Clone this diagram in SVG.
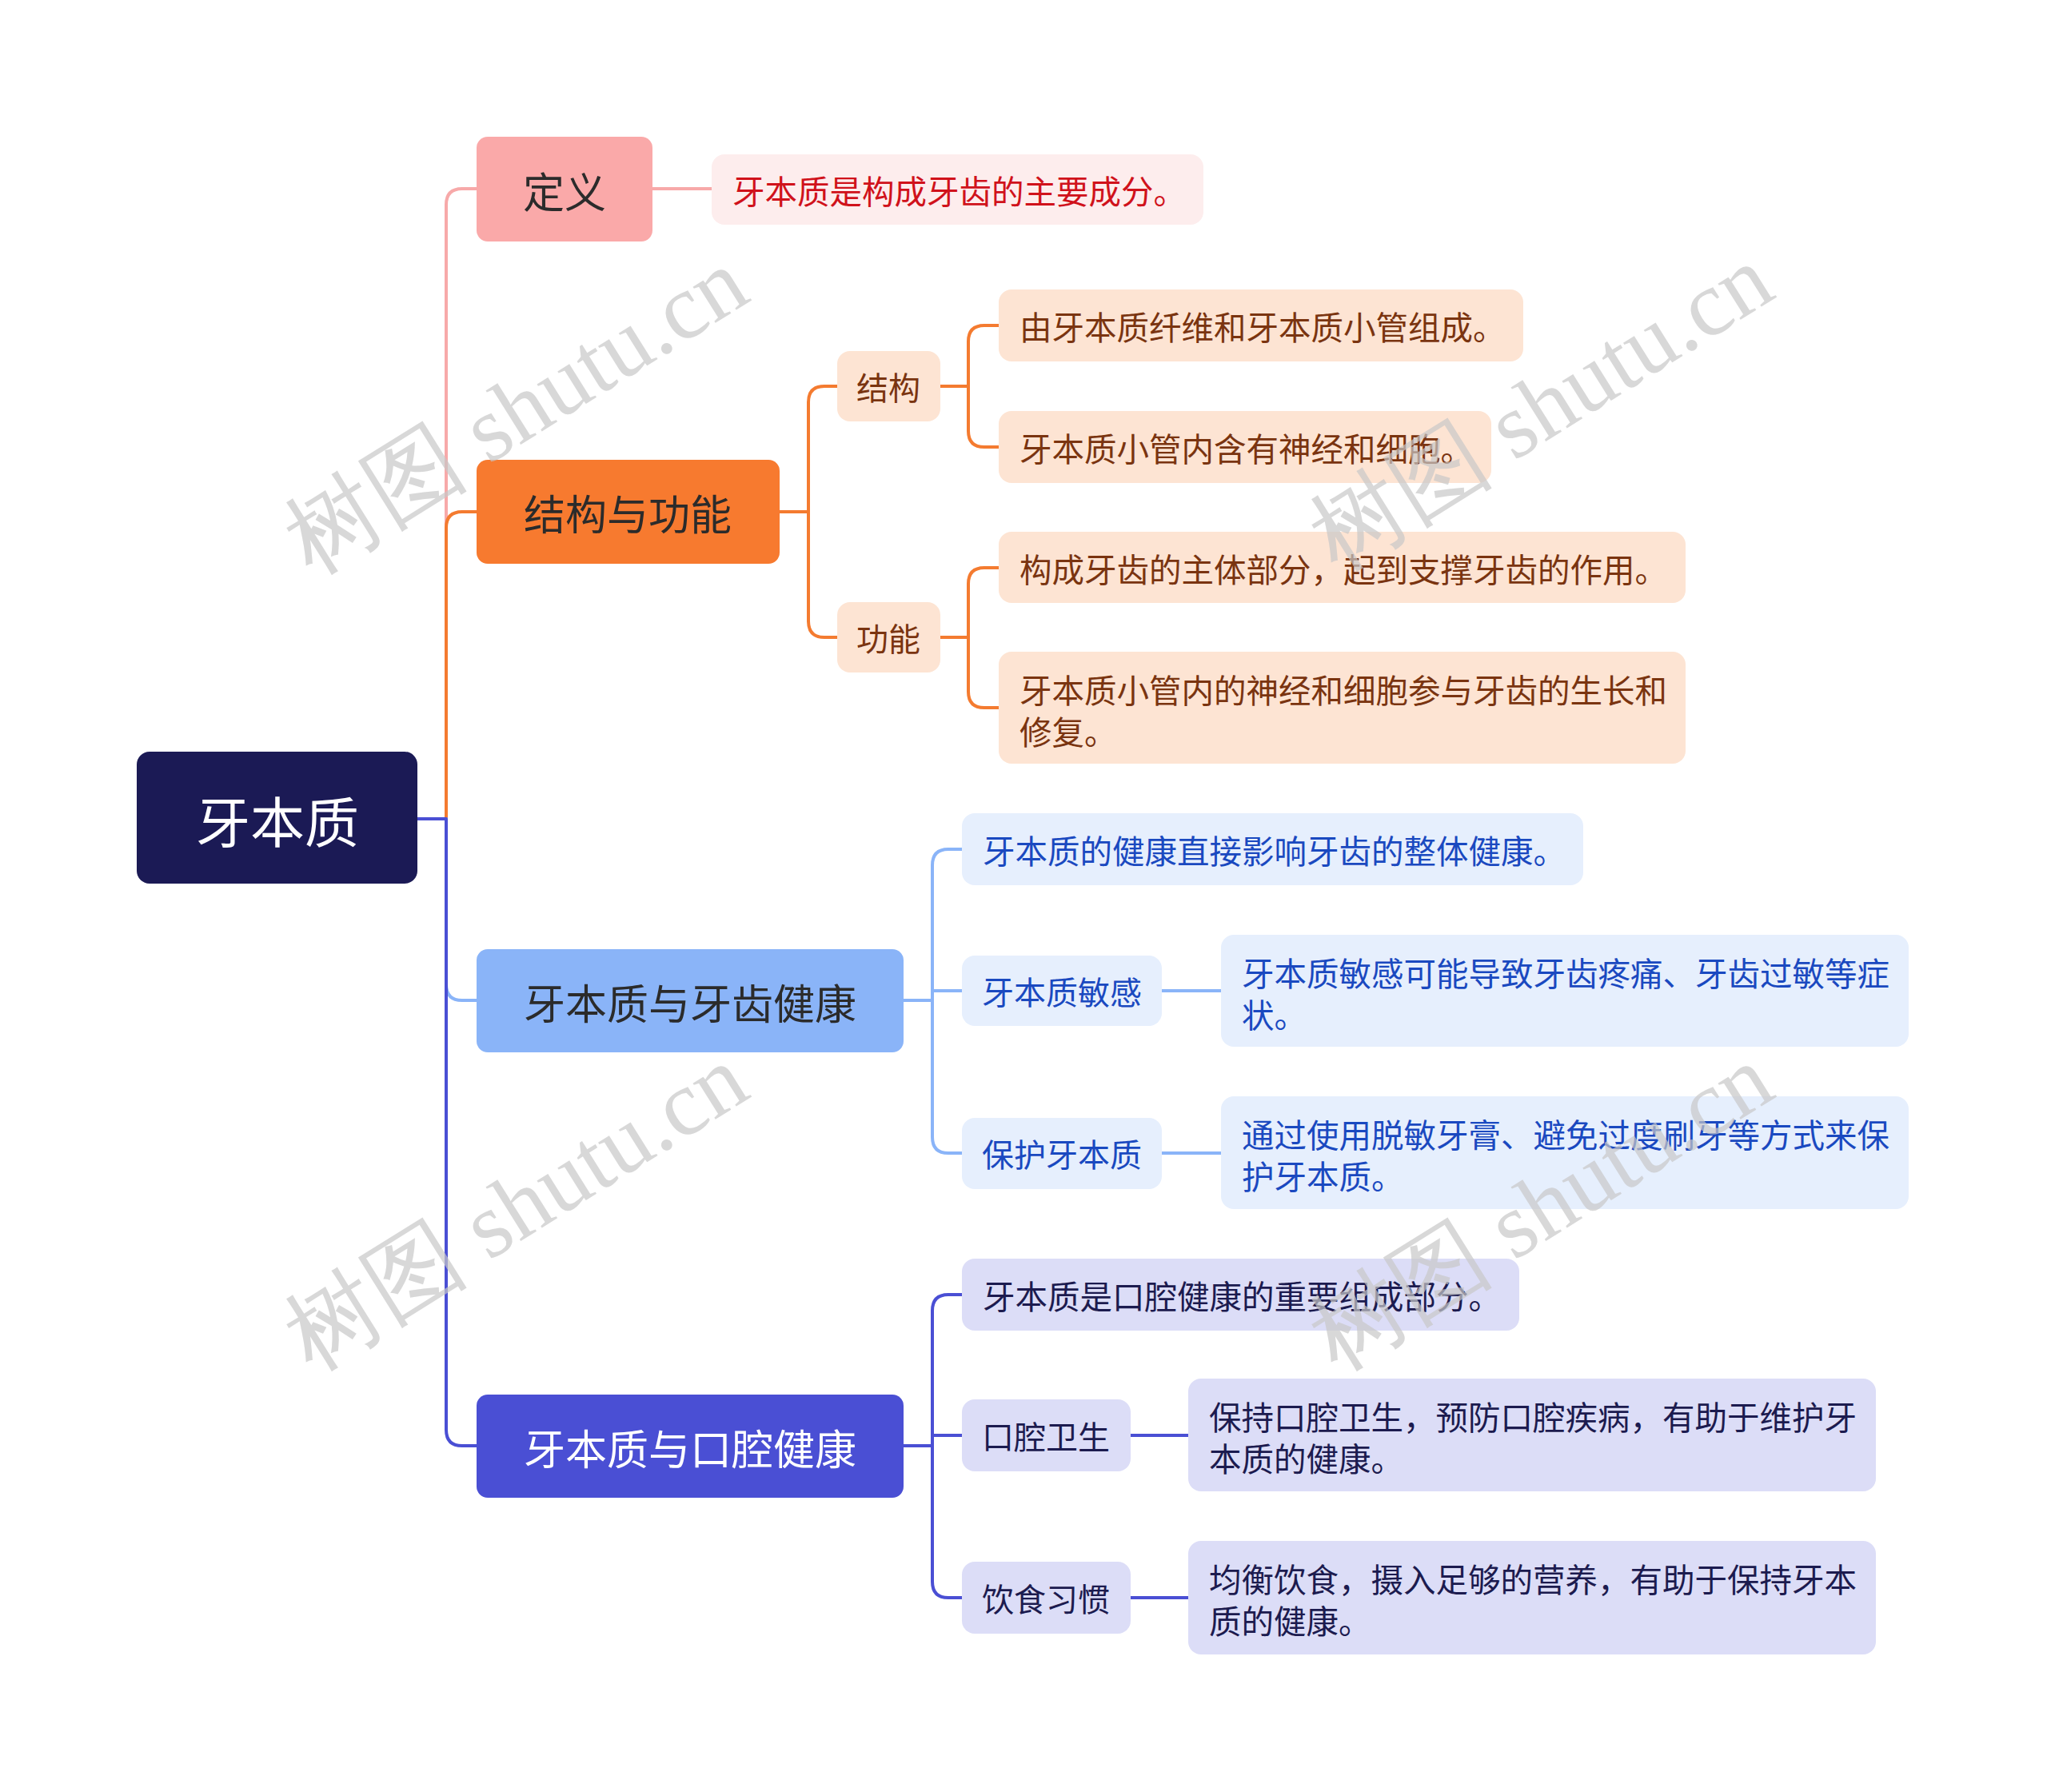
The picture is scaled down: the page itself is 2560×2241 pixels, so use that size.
<svg xmlns="http://www.w3.org/2000/svg" width="2560" height="2241" viewBox="0 0 2560 2241">
<style>
text{font-family:"Noto Sans CJK SC","Noto Sans",sans-serif;dominant-baseline:central}
.c{fill:none;stroke-width:4;stroke-linecap:round;stroke-linejoin:round}
.l1{font-size:52px;text-anchor:middle}
.l2{font-size:40px;text-anchor:middle}
.lf{font-size:40.5px}
.wm{font-family:"Liberation Serif","DejaVu Serif",serif;font-size:116px;fill:#c8c8c8;fill-opacity:0.7;text-anchor:middle}
</style>
<rect width="2560" height="2241" fill="#ffffff"/>
<g id="connectors">
<path class="c" stroke="#F7A9A9" d="M522,1024 H558 V256 Q558,236 578,236 H596"/>
<path class="c" stroke="#F47B30" d="M522,1024 H558 V660 Q558,640 578,640 H596"/>
<path class="c" stroke="#8AB4F8" d="M522,1024 H558 V1231 Q558,1251 578,1251 H596"/>
<path class="c" stroke="#4A4FD4" d="M522,1024 H558 V1788 Q558,1808 578,1808 H596"/>
<path class="c" stroke="#F7A9A9" d="M816,236 H890"/>
<path class="c" stroke="#F47B30" d="M975,640 H1011 V503 Q1011,483 1031,483 H1047"/>
<path class="c" stroke="#F47B30" d="M975,640 H1011 V777 Q1011,797 1031,797 H1047"/>
<path class="c" stroke="#F47B30" d="M1176,483 H1211 V427 Q1211,407 1231,407 H1249"/>
<path class="c" stroke="#F47B30" d="M1176,483 H1211 V539 Q1211,559 1231,559 H1249"/>
<path class="c" stroke="#F47B30" d="M1176,797 H1211 V730 Q1211,710 1231,710 H1249"/>
<path class="c" stroke="#F47B30" d="M1176,797 H1211 V865 Q1211,885 1231,885 H1249"/>
<path class="c" stroke="#8AB4F8" d="M1130,1251 H1166 V1082 Q1166,1062 1186,1062 H1203"/>
<path class="c" stroke="#8AB4F8" d="M1130,1251 H1166 V1239 H1203"/>
<path class="c" stroke="#8AB4F8" d="M1130,1251 H1166 V1422 Q1166,1442 1186,1442 H1203"/>
<path class="c" stroke="#8AB4F8" d="M1453,1239 H1527"/>
<path class="c" stroke="#8AB4F8" d="M1453,1442 H1527"/>
<path class="c" stroke="#4A4FD4" d="M1130,1808 H1166 V1639 Q1166,1619 1186,1619 H1203"/>
<path class="c" stroke="#4A4FD4" d="M1130,1808 H1166 V1795 H1203"/>
<path class="c" stroke="#4A4FD4" d="M1130,1808 H1166 V1978 Q1166,1998 1186,1998 H1203"/>
<path class="c" stroke="#4A4FD4" d="M1414,1795 H1486"/>
<path class="c" stroke="#4A4FD4" d="M1414,1998 H1486"/>
</g>
<g id="root"><rect x="171" y="940" width="351" height="165" rx="16" fill="#1B1A55"/><text x="347" y="1024" font-size="68" text-anchor="middle" fill="#ffffff">牙本质</text></g>
<g id="n-def"><rect x="596" y="171" width="220" height="131" rx="14" fill="#FAA9A9"/><text class="l1" x="706" y="237" fill="#2b2b2b">定义</text></g>
<g id="n-def-1"><rect x="890" y="193" width="615" height="88" rx="16" fill="#FDEDED"/><text class="lf" x="916" y="237" fill="#D0121B">牙本质是构成牙齿的主要成分。</text></g>
<g id="n-sf"><rect x="596" y="575" width="379" height="130" rx="14" fill="#F77A2F"/><text class="l1" x="785" y="640" fill="#2b2b2b">结构与功能</text></g>
<g id="n-jg"><rect x="1047" y="439" width="129" height="88" rx="16" fill="#FDE4D3"/><text class="l2" x="1111" y="483" fill="#7A3410">结构</text></g>
<g id="n-jg-1"><rect x="1249" y="362" width="656" height="90" rx="16" fill="#FDE4D3"/><text class="lf" x="1275" y="407" fill="#7A3410">由牙本质纤维和牙本质小管组成。</text></g>
<g id="n-jg-2"><rect x="1249" y="514" width="616" height="90" rx="16" fill="#FDE4D3"/><text class="lf" x="1275" y="559" fill="#7A3410">牙本质小管内含有神经和细胞。</text></g>
<g id="n-gn"><rect x="1047" y="753" width="129" height="88" rx="16" fill="#FDE4D3"/><text class="l2" x="1111" y="797" fill="#7A3410">功能</text></g>
<g id="n-gn-1"><rect x="1249" y="665" width="859" height="89" rx="16" fill="#FDE4D3"/><text class="lf" x="1275" y="710" fill="#7A3410">构成牙齿的主体部分，起到支撑牙齿的作用。</text></g>
<g id="n-gn-2"><rect x="1249" y="815" width="859" height="140" rx="16" fill="#FDE4D3"/><text class="lf" fill="#7A3410"><tspan x="1275" y="861">牙本质小管内的神经和细胞参与牙齿的生长和</tspan><tspan x="1275" y="913">修复。</tspan></text></g>
<g id="n-yc"><rect x="596" y="1187" width="534" height="129" rx="14" fill="#8AB4F8"/><text class="l1" x="863" y="1252" fill="#2b2b2b">牙本质与牙齿健康</text></g>
<g id="n-yc-1"><rect x="1203" y="1017" width="777" height="90" rx="16" fill="#E6EFFD"/><text class="lf" x="1229" y="1062" fill="#1A49C0">牙本质的健康直接影响牙齿的整体健康。</text></g>
<g id="n-mg"><rect x="1203" y="1195" width="250" height="88" rx="16" fill="#E6EFFD"/><text class="l2" x="1328" y="1239" fill="#1A49C0">牙本质敏感</text></g>
<g id="n-mg-1"><rect x="1527" y="1169" width="860" height="140" rx="16" fill="#E6EFFD"/><text class="lf" fill="#1A49C0"><tspan x="1553" y="1215">牙本质敏感可能导致牙齿疼痛、牙齿过敏等症</tspan><tspan x="1553" y="1267">状。</tspan></text></g>
<g id="n-bh"><rect x="1203" y="1398" width="250" height="89" rx="16" fill="#E6EFFD"/><text class="l2" x="1328" y="1442" fill="#1A49C0">保护牙本质</text></g>
<g id="n-bh-1"><rect x="1527" y="1371" width="860" height="141" rx="16" fill="#E6EFFD"/><text class="lf" fill="#1A49C0"><tspan x="1553" y="1417">通过使用脱敏牙膏、避免过度刷牙等方式来保</tspan><tspan x="1553" y="1469">护牙本质。</tspan></text></g>
<g id="n-kq"><rect x="596" y="1744" width="534" height="129" rx="14" fill="#4A4FD4"/><text class="l1" x="863" y="1809" fill="#ffffff">牙本质与口腔健康</text></g>
<g id="n-kq-1"><rect x="1203" y="1574" width="697" height="90" rx="16" fill="#DCDDF7"/><text class="lf" x="1229" y="1619" fill="#1C1B4F">牙本质是口腔健康的重要组成部分。</text></g>
<g id="n-ws"><rect x="1203" y="1750" width="211" height="90" rx="16" fill="#DCDDF7"/><text class="l2" x="1308" y="1795" fill="#1C1B4F">口腔卫生</text></g>
<g id="n-ws-1"><rect x="1486" y="1724" width="860" height="141" rx="16" fill="#DCDDF7"/><text class="lf" fill="#1C1B4F"><tspan x="1512" y="1770">保持口腔卫生，预防口腔疾病，有助于维护牙</tspan><tspan x="1512" y="1822">本质的健康。</tspan></text></g>
<g id="n-ys"><rect x="1203" y="1953" width="211" height="90" rx="16" fill="#DCDDF7"/><text class="l2" x="1308" y="1998" fill="#1C1B4F">饮食习惯</text></g>
<g id="n-ys-1"><rect x="1486" y="1927" width="860" height="142" rx="16" fill="#DCDDF7"/><text class="lf" fill="#1C1B4F"><tspan x="1512" y="1973">均衡饮食，摄入足够的营养，有助于保持牙本</tspan><tspan x="1512" y="2025">质的健康。</tspan></text></g>
<g id="watermarks">
<text class="wm" transform="translate(645,514) rotate(-32)">树图 shutu.cn</text>
<text class="wm" transform="translate(1927,510) rotate(-32)">树图 shutu.cn</text>
<text class="wm" transform="translate(645,1510) rotate(-32)">树图 shutu.cn</text>
<text class="wm" transform="translate(1927,1510) rotate(-32)">树图 shutu.cn</text>
</g>
</svg>
